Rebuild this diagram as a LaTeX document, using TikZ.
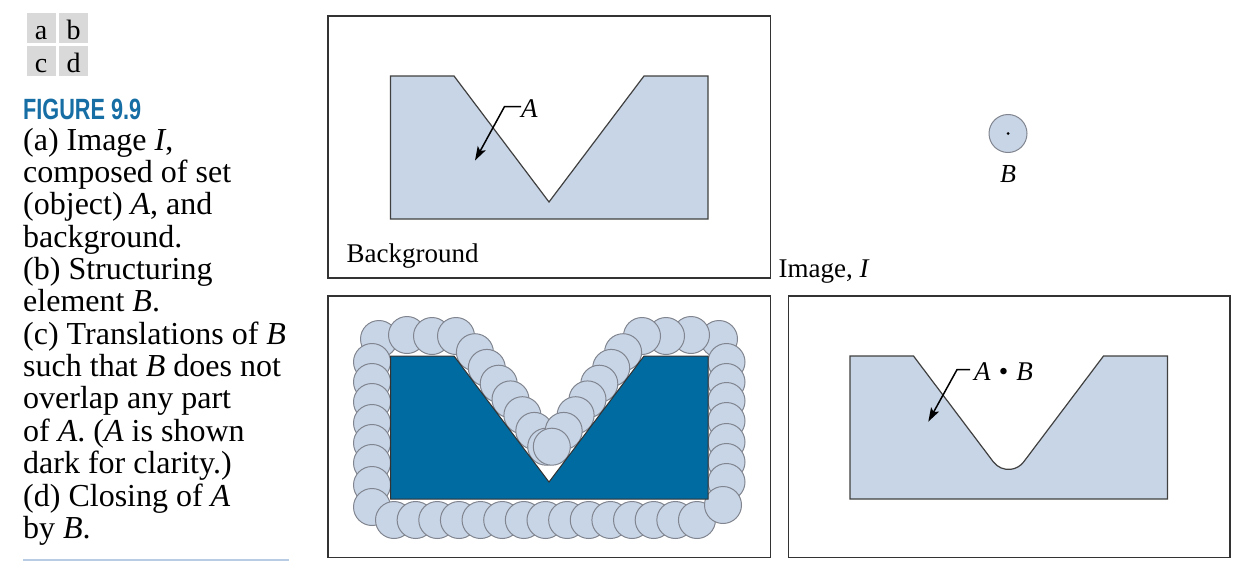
\documentclass[tikz,border=0pt]{standalone}
\usepackage{graphicx}
\usepackage{fontspec}
\setmainfont{Liberation Serif}
\newfontfamily\figfont{Liberation Sans}
\usetikzlibrary{arrows.meta}
\definecolor{lightA}{RGB}{200,213,230}
\definecolor{darkA}{RGB}{0,107,160}
\definecolor{figblue}{RGB}{22,110,165}
\definecolor{rulecol}{RGB}{184,204,228}
\definecolor{boxgray}{RGB}{217,217,217}
\definecolor{circedge}{RGB}{128,133,143}
\begin{document}
\begin{tikzpicture}[x=1pt,y=-1pt,
  frame/.style={draw=black!80, line width=1.5pt},
  objA/.style={fill=lightA, draw=black!75, line width=1.2pt},
  darkobj/.style={fill=darkA, draw=black!80, line width=1pt},
  probe/.style={fill=lightA, draw=circedge, line width=1pt},
  capline/.style={anchor=base west, inner sep=0pt, font=\fontsize{32}{32}\selectfont},
  lbl/.style={anchor=base west, inner sep=0pt, font=\fontsize{27}{27}\selectfont},
  tag/.style={fill=boxgray, minimum width=29pt, text height=26.6pt, text depth=3.4pt, inner sep=0pt, font=\fontsize{28}{28}\selectfont},
  leader/.style={line width=1.5pt, -{Stealth[length=14pt,width=9pt,inset=3pt]}},
]
\useasboundingbox (0,0) rectangle (1241,570);

% panel tags
\node[tag] (ta) at (41.2,27.7) {a};
\node[tag] (tb) at (73.5,27.7) {b};
\node[tag] (tc) at (41.2,60.8) {c};
\node[tag] (td) at (73.5,60.8) {d};

% caption
\node[anchor=base west, inner sep=0pt, text=figblue, font=\figfont\bfseries\fontsize{29.3}{29.3}\selectfont] (fig) at (23,119.3) {\scalebox{0.74}[1]{FIGURE 9.9}};
\node[capline] (c1) at (23,150) {(a) Image \textit{I},};
\node[capline] (c2) at (23,182.4) {composed of set};
\node[capline] (c3) at (23,214.7) {(object) \textit{A}, and};
\node[capline] (c4) at (23,247.1) {background.};
\node[capline] (c5) at (23,279.4) {(b) Structuring};
\node[capline] (c6) at (23,311.8) {element \textit{B}.};
\node[capline] (c7) at (23,344.2) {(c) Translations of \textit{B}};
\node[capline] (c8) at (23,376.5) {such that \textit{B} does not};
\node[capline] (c9) at (23,408.9) {overlap any part};
\node[capline] (c10) at (23,441.2) {of \textit{A}. (\textit{A} is shown};
\node[capline] (c11) at (23,473.6) {dark for clarity.)};
\node[capline] (c12) at (23,506.0) {(d) Closing of \textit{A}};
\node[capline] (c13) at (23,538.3) {by \textit{B}.};
\coordinate (r1) at (23,559.5);
\coordinate (r2) at (289,559.5);
\draw[rulecol, line width=2pt] (r1) -- (r2);

% ---- panel (a)
\draw[frame] (328,16) rectangle (770.5,278);
\draw[objA] (390.5,76) -- (454,76) -- (549,202) -- (644,76) -- (708,76) -- (708,219) -- (390.5,219) -- cycle;
\node[anchor=base west, inner sep=0pt, font=\fontsize{27}{27}\selectfont\itshape] (lblA) at (521,117.5) {A};
\coordinate (tipA) at (475,160.5);
\draw[leader] ([yshift=2pt]lblA.west) -- ++(-16.5,0) -- (tipA);
\node[lbl] (bg) at (346.5,262) {Background};
\node[lbl] (imgI) at (778.5,277) {Image, \textit{I}};

% ---- panel (b)
\node[probe, circle, minimum size=38pt, inner sep=0pt] (B) at (1008,133.5) {};
\fill (B.center) circle[radius=1.5pt];
\node[anchor=base, inner sep=0pt, font=\fontsize{26}{26}\selectfont\itshape] (lblB) at (1008,182.3) {B};

% ---- panel (c)
\draw[frame] (328,296) rectangle (770.5,557.5);
\foreach \p in {(379,339),(407,335),(432,336),(456,336),
  (474.9,352.2),(486.8,367.9),(498.7,383.7),(510.5,399.4),(522.4,415.2),(534.3,430.9),(546.2,446.7),
  (372,362),(372,382),(372,402),(372,423),(372,443),(372,463),(372,485),(372,507)}
  \draw[probe] \p circle[radius=18.5pt];
\foreach \k in {0,...,14}
  \draw[probe] (394+21.64*\k,520) circle[radius=18.5pt];
\foreach \p in {(719,339),(691,335),(666,336),(642,336),
  (623.1,352.2),(611.2,367.9),(599.3,383.7),(587.5,399.4),(575.6,415.2),(563.7,430.9),(551.8,446.7),
  (726.5,362),(726.5,382),(726.5,401),(726.5,421),(726.5,442),(726.5,462),(726.5,482),(723,505)}
  \draw[probe] \p circle[radius=18.5pt];
\draw[darkobj] (390.5,356) -- (454,356) -- (549,482) -- (644,356) -- (708,356) -- (708,499) -- (390.5,499) -- cycle;

% ---- panel (d)
\draw[frame] (788.5,296) rectangle (1230,557.5);
\draw[objA] (850,356) -- (913.5,356) -- (993.33,461.88) arc[start angle=143, end angle=37, radius=19] -- (1103.5,356) -- (1167.5,356) -- (1167.5,499) -- (850,499) -- cycle;
\node[anchor=base west, inner sep=0pt, font=\fontsize{27}{27}\selectfont] (lblAB) at (974,380.5) {\textit{A}\hspace{0.3em}\textbullet\hspace{0.3em}\textit{B}};
\coordinate (tipAB) at (928.3,421.7);
\draw[leader] ([xshift=-4pt,yshift=2pt]lblAB.west) -- ++(-13,0) -- (tipAB);
\end{tikzpicture}
\end{document}
